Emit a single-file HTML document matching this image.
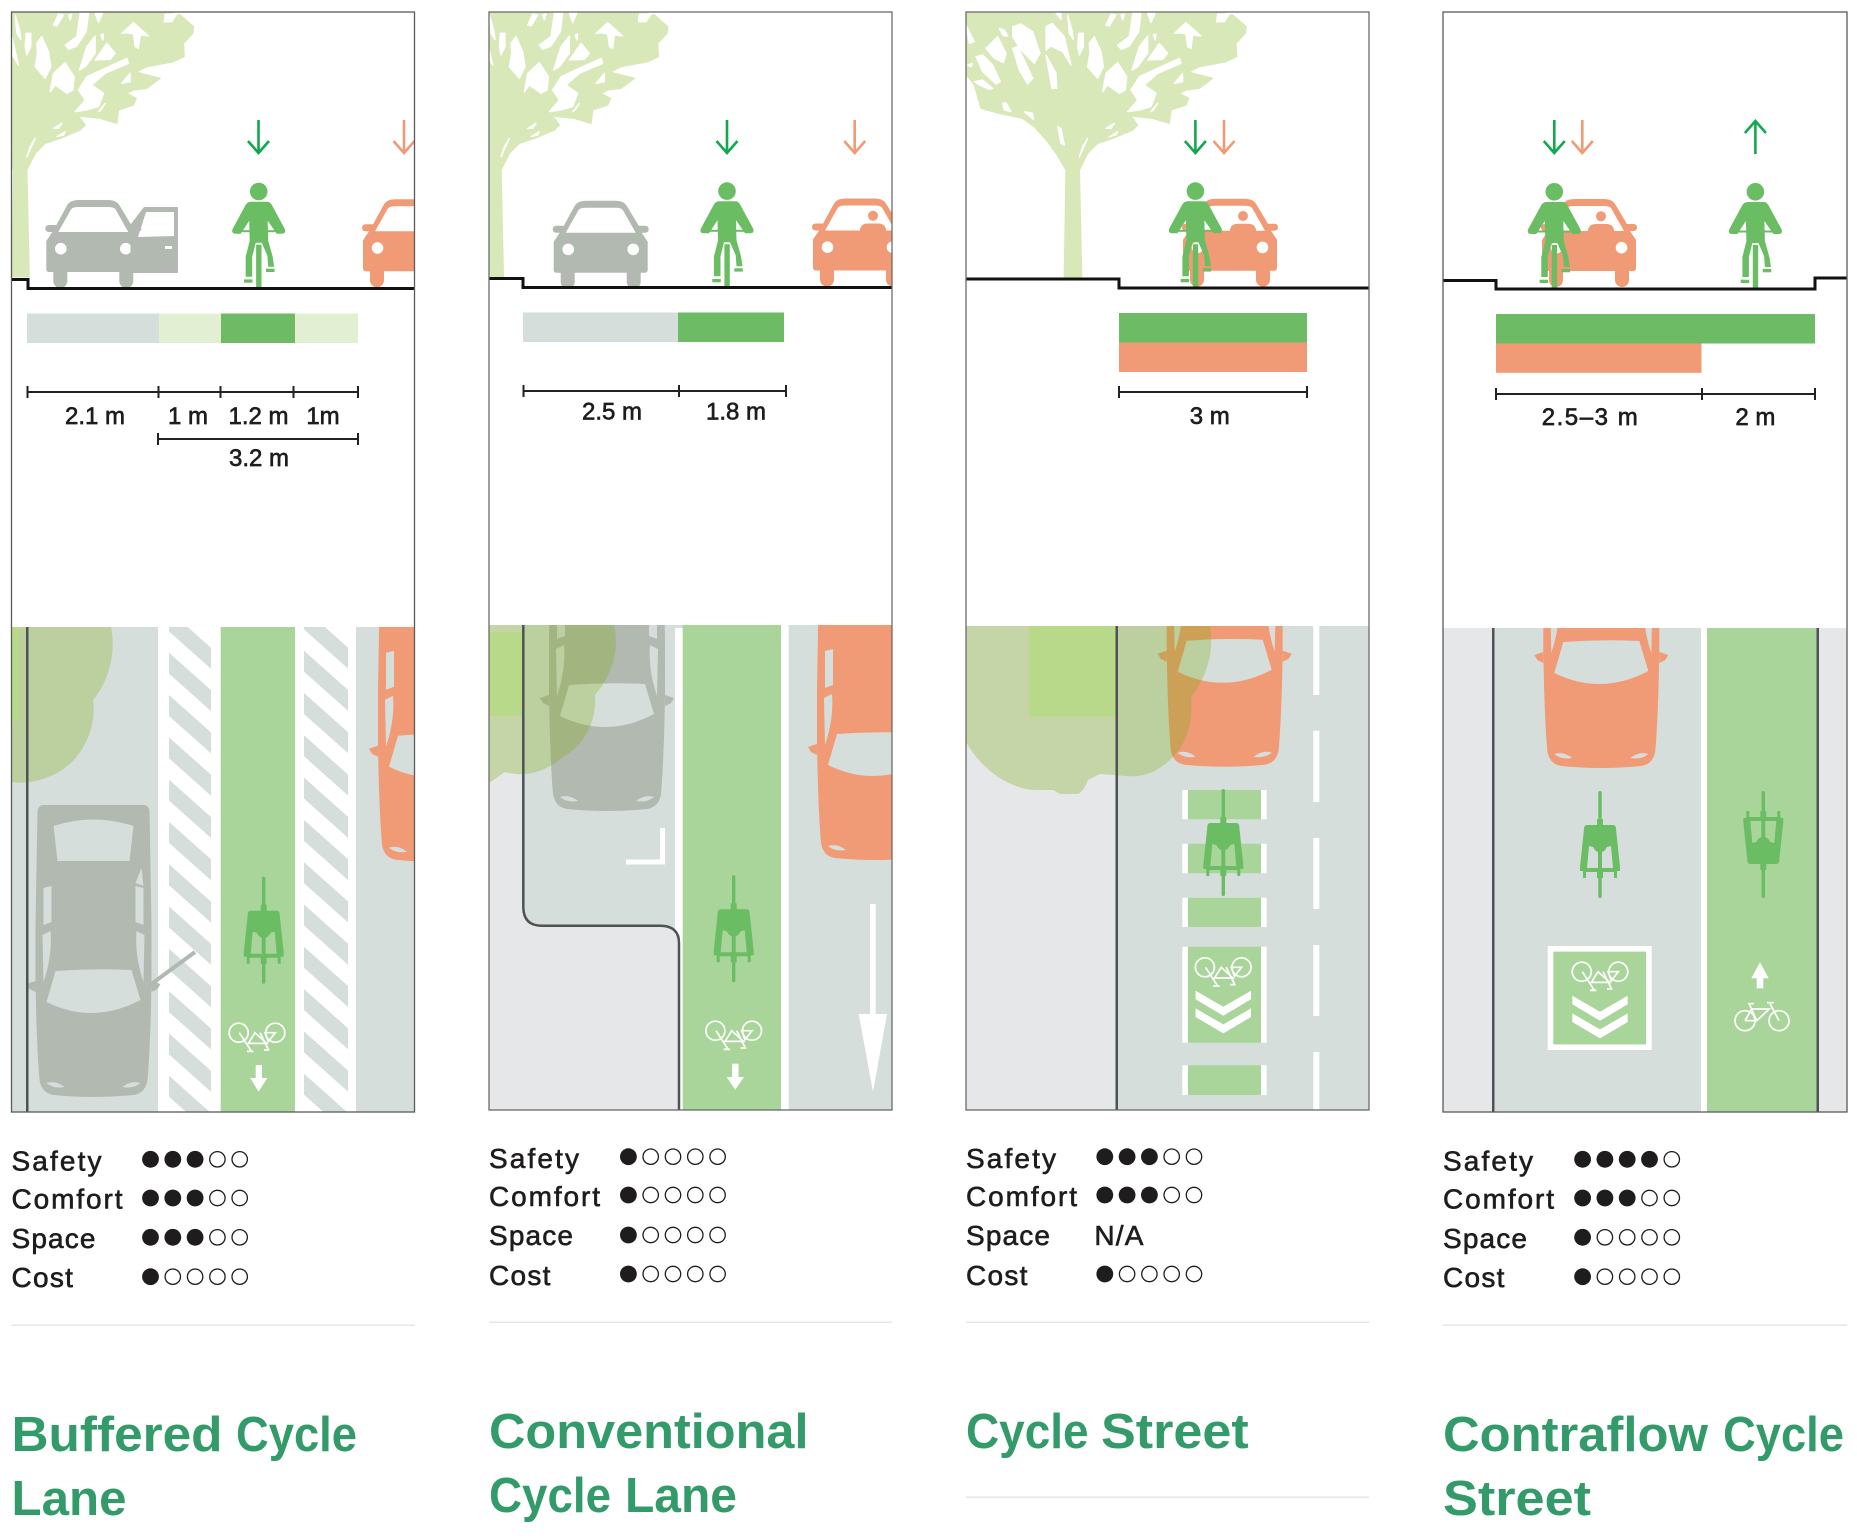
<!DOCTYPE html>
<html><head><meta charset="utf-8"><style>
html,body{margin:0;padding:0;background:#fff}
svg{display:block}
.d{font:24px "Liberation Sans",sans-serif;fill:#1f1c1d;stroke:#1f1c1d;stroke-width:.65;text-anchor:middle}
.s{font:28px "Liberation Sans",sans-serif;fill:#1f1c1d;stroke:#1f1c1d;stroke-width:.6}
.t{font:bold 49px "Liberation Sans",sans-serif;fill:#339b69}
</style></head><body>
<svg xmlns="http://www.w3.org/2000/svg" width="1857" height="1539" viewBox="0 0 1857 1539">
<defs>
<clipPath id="c1"><rect x="11.5" y="12" width="403" height="1100"/></clipPath>
<clipPath id="c2"><rect x="489" y="12" width="403" height="1098"/></clipPath>
<clipPath id="c3"><rect x="966" y="12" width="403" height="1098"/></clipPath>
<clipPath id="p1"><rect x="11.5" y="627" width="403" height="485"/></clipPath>
<clipPath id="p2"><rect x="489" y="625" width="403" height="485"/></clipPath>
<clipPath id="p3"><rect x="966" y="626" width="403" height="484"/></clipPath>
<clipPath id="p4"><rect x="1443" y="628" width="404" height="484"/></clipPath>
<pattern id="h1" patternUnits="userSpaceOnUse" x="169" y="652.7" width="47.5" height="42.3"><path fill="#d6dedb" d="M0,0L47.5,42.3V63.3L0,21ZM0,-42.3L47.5,0V21L0,-21.3Z"/></pattern>
<pattern id="h2" patternUnits="userSpaceOnUse" x="304" y="650.7" width="47.5" height="42.3"><path fill="#d6dedb" d="M0,0L47.5,42.3V63.3L0,21ZM0,-42.3L47.5,0V21L0,-21.3Z"/></pattern>
<g id="tree" transform="translate(-86.5,10) scale(.33333)">
<path fill="#d9e8b8" stroke="#d9e8b8" stroke-width="4" stroke-linejoin="round" d="M-10,6H780L770,15L800,15L840,50L838,70L810,100L812,140L780,155L700,170L670,185L680,190L740,205L700,235L660,240L640,250L668,265L660,285L615,300L610,340L560,325L495,318L515,345L500,360L440,385L395,400L365,430L340,480L347,800H295L300,480L270,430L245,395L205,350L170,325L100,310L45,295L25,225L-10,180Z"/>
<path fill="#fff" stroke="#fff" stroke-width="4" stroke-linejoin="round" d="M140,50L165,42L200,65L222,130L205,160L165,120L140,80ZM140,115L155,110L175,150L200,205L185,222L160,180ZM30,140L50,135L80,165L103,215L90,222L50,185ZM60,115L95,80L120,130L112,158L85,145ZM100,55L115,60L125,78L112,78ZM240,50L258,40L295,80L315,165L290,125L255,108L240,120L240,90ZM240,135L270,190L272,235L258,235L250,190ZM305,15L318,60L322,88L310,70ZM338,70L352,70L352,110L340,135L335,110ZM370,100L385,80L405,125L412,170L395,205L365,170L372,130ZM410,245L420,190L455,158L482,200L478,240L460,250L425,225ZM625,70L660,38L705,78L680,75L675,115L665,110L660,72L640,68ZM455,105L490,80L500,10L525,10L518,65L490,108L465,118ZM498,180L520,110L545,78L545,130L515,170ZM545,150L580,100L605,130L590,148ZM420,45L435,12L450,15L430,48ZM545,10L568,8L555,38ZM465,15L475,12L470,30ZM270,10L285,8L285,28ZM562,75L570,72L568,90ZM495,240L520,200L640,145L645,160L575,190L535,225L570,250L555,290L520,300L485,305L515,270ZM625,220L650,190L650,215ZM555,305L575,280L562,300ZM110,280L120,278L135,305L115,300ZM175,305L200,310L202,328ZM0,45L25,95L10,100ZM5,165L20,160L15,170ZM25,215L50,210L80,235L70,238L40,225ZM275,350L285,355L295,405L285,400ZM365,385L340,440L350,410ZM420,355L445,340L435,355ZM430,380L455,365L450,375ZM755,12L790,12L775,35L752,35Z"/>
</g>
<g id="cyc">
<circle cx="0" cy="8.8" r="8.8"/>
<path d="M-8,19H9Q11,19 13,22L26,46Q28,51 23,51H18L9,38L9.5,58L14,74L15.5,84H9.5L8.7,73L3,60H-3L-6.5,74V94H-13V74L-9,58L-9.5,38L-18,51H-23Q-28,51 -26,46L-13,22Q-11,19 -8,19Z"/>
<rect x="-21" y="47.5" width="42" height="2"/><rect x="-2.6" y="62" width="5.4" height="44"/>
<rect x="-14.7" y="96.7" width="8.5" height="3.3"/><rect x="7.3" y="86" width="8.5" height="3.3"/>
</g>
<g id="carf">
<path fill-rule="evenodd" d="M-38,27L-26,5Q-23,0 -15,0H15Q23,0 26,5L38,25H44Q48,25 48,28.5Q48,32 44,32H41L47,41V69Q47,72 44,72H40V81A7,7 0 0 1 26,81V72H-26V81A7,7 0 0 1 -40,81V72H-44Q-47,72 -47,69V41L-41,32H-44Q-48,32 -48,28.5Q-48,25 -44,25H-37ZM-35,32H35L22,9Q20,7 15,7H-15Q-20,7 -22,9Z"/>
<circle cx="-32.5" cy="48.7" r="5.8" fill="#fff"/><circle cx="32.5" cy="48.7" r="5.8" fill="#fff"/>
</g>
<g id="dr"><circle cx="13" cy="17.3" r="5"/><path d="M0,33V31Q1,25 8,25H18Q25,25 26,31V33Z"/></g>
<g id="cart">
<path d="M-50,0H50Q55,0 56,6L58,120V175Q57,240 54,275Q52,288 40,290Q0,294 -40,290Q-52,288 -54,275Q-57,240 -58,175V120L-56,6Q-55,0 -50,0Z"/>
<path d="M-58,176L-67,179L-64,184L-58,187ZM58,176L67,179L64,184L58,187Z"/>
<path fill="#d6dedb" d="M-40,21Q0,8 40,21L36,56H-36ZM-38,166Q0,163 38,165L47,195Q0,220 -47,197ZM-50,83L-42,81V117L-50,120ZM-51,130L-43,126Q-41,150 -50,177ZM50,83L42,81V117L50,120ZM51,130L43,126Q41,150 50,177ZM42,78L48,63L50,81ZM-47,278Q-38,275 -29,282Q-40,284 -47,278ZM47,278Q38,275 29,282Q40,284 47,278Z"/>
</g>
<g id="bike">
<path fill-rule="evenodd" d="M-13,34H13Q16,34 16,38L20,76V80H17V87H14V81H-14V87H-17V80H-20V76L-16,38Q-16,34 -13,34ZM-11,55L-7,56Q-5,60 -2,61V77H-13ZM11,55L7,56Q5,60 2,61V77H13Z"/>
<rect x="-1.7" y="0" width="3.4" height="107" rx="1.5"/><rect x="-3" y="28" width="6" height="8"/><rect x="-3" y="78" width="6" height="9"/>
</g>
<g id="tan" fill="none" stroke="#fff" stroke-width="1.7">
<circle cx="-18.3" cy="0" r="9.5"/><circle cx="18.3" cy="0" r="9.5"/>
<path d="M-17.7,0L-6,18M-10,18.7H-3.6M-8.7,10.7L-2,0L9.7,10.7ZM8,0H18.3L11.3,9ZM3,0L11.3,16.7M7,17.3H12.5"/>
</g>
<g id="chev" fill="#fff"><path d="M-27.7,0L0,16L27.7,0V8.6L0,25L-27.7,8.6Z"/><path d="M-27.7,17.7L0,33.7L27.7,17.7V26.3L0,42.7L-27.7,26.3Z"/></g>
<g id="ad"><path d="M0,0V33M-10.5,21L0,33L10.5,21" fill="none" stroke-width="2.6"/></g>
<g id="r1"><circle cx="0" cy="0" r="8.4" fill="#1f1c1d"/><g fill="none" stroke="#1f1c1d" stroke-width="1.3"><circle cx="22.3" cy="0" r="7.7"/><circle cx="44.6" cy="0" r="7.7"/><circle cx="66.9" cy="0" r="7.7"/><circle cx="89.2" cy="0" r="7.7"/></g></g>
<g id="r3"><g fill="#1f1c1d"><circle cx="0" cy="0" r="8.4"/><circle cx="22.3" cy="0" r="8.4"/><circle cx="44.6" cy="0" r="8.4"/></g><g fill="none" stroke="#1f1c1d" stroke-width="1.3"><circle cx="66.9" cy="0" r="7.7"/><circle cx="89.2" cy="0" r="7.7"/></g></g>
<g id="r4"><g fill="#1f1c1d"><circle cx="0" cy="0" r="8.4"/><circle cx="22.3" cy="0" r="8.4"/><circle cx="44.6" cy="0" r="8.4"/><circle cx="66.9" cy="0" r="8.4"/></g><circle cx="89.2" cy="0" r="7.7" fill="none" stroke="#1f1c1d" stroke-width="1.3"/></g>
</defs>

<rect width="1857" height="1539" fill="#fff"/>

<!-- PANEL 1 -->
<g clip-path="url(#c1)">
<use href="#tree"/>
<use href="#carf" x="93.3" y="200" fill="#b2b9b1"/>
<path fill="#b2b9b1" fill-rule="evenodd" d="M131,224L144,207H178V273H130ZM138,237L146,212H174V236Z"/>
<rect x="165" y="246" width="7" height="3" fill="#fff"/>
<use href="#carf" x="410" y="199.3" fill="#f09b75"/>
<use href="#cyc" x="258.7" y="182.7" fill="#6bbd63"/>
<use href="#ad" x="258.5" y="120" stroke="#12a84e"/>
<use href="#ad" x="404" y="120" stroke="#f09b75"/>
<path d="M11,279.5H28V288.5H415" fill="none" stroke="#111" stroke-width="3"/>
</g>
<rect x="27" y="313.5" width="132" height="29.5" fill="#d6dedb"/><rect x="159" y="313.5" width="62" height="29.5" fill="#e3efd3"/><rect x="221" y="313.5" width="74" height="29.5" fill="#6dbb64"/><rect x="295" y="313.5" width="63" height="29.5" fill="#e3efd3"/>
<path d="M27.5,392H358M27.5,386V398M158.5,386V398M220.5,386V398M293.5,386V398M358,386V398M158,439H358M158,433V445M358,433V445" fill="none" stroke="#222" stroke-width="2"/>
<text class="d" x="95" y="424">2.1 m</text><text class="d" x="188" y="424">1 m</text><text class="d" x="258.5" y="424">1.2 m</text><text class="d" x="323" y="424">1m</text><text class="d" x="259" y="466">3.2 m</text>
<g clip-path="url(#p1)">
<rect x="11.5" y="627" width="403" height="485" fill="#d6dedb"/>
<rect x="158" y="627" width="198" height="485" fill="#fff"/>
<rect x="169" y="627" width="42" height="485" fill="url(#h1)"/>
<rect x="304" y="627" width="44" height="485" fill="url(#h2)"/>
<rect x="220.7" y="627" width="74.3" height="485" fill="#a9d59b"/>
<use href="#cart" x="93.5" y="805" fill="#b2b9b1"/>
<path d="M150,985L195,952" stroke="#b2b9b1" stroke-width="4"/>
<use href="#cart" x="436" y="569.7" fill="#f09b75"/>
<path fill="#7fac14" fill-opacity=".3" d="M12,627H111C116,650 110,680 93,700C95,715 93,740 72,762C55,778 30,785 12,782Z"/>
<rect x="12" y="627" width="7" height="95" fill="#b8d98a"/>
<rect x="26" y="627" width="2.5" height="485" fill="#4f5254"/>
<use href="#bike" x="263.7" y="876.7" fill="#6bbd63"/>
<use href="#tan" x="257" y="1032.7"/>
<path fill="#fff" d="M255.7,1065H262V1078H267.3L258.5,1091.7L250.3,1078H255.7Z"/>
</g>
<rect x="11.5" y="12" width="403" height="1100" fill="none" stroke="#5b5b5b" stroke-width="1.3"/>
<g>
<text class="s" x="11.5" y="1170.7" textLength="90">Safety</text><text class="s" x="11.5" y="1208.7" textLength="111">Comfort</text><text class="s" x="11.5" y="1248" textLength="84">Space</text><text class="s" x="11.5" y="1287" textLength="61.4">Cost</text>
<use href="#r3" x="150.5" y="1159.3"/><use href="#r3" x="150.5" y="1198"/><use href="#r3" x="150.5" y="1237.3"/><use href="#r1" x="150.5" y="1276.7"/>
</g>
<rect x="11.5" y="1324.5" width="403" height="1.5" fill="#e6e6e6"/>
<text class="t" x="11.5" y="1451" textLength="211" lengthAdjust="spacingAndGlyphs">Buffered</text>
<text class="t" x="236" y="1451" textLength="121" lengthAdjust="spacingAndGlyphs">Cycle</text>
<text class="t" x="11.5" y="1515" textLength="115" lengthAdjust="spacingAndGlyphs">Lane</text>

<!-- PANEL 2 -->
<g clip-path="url(#c2)">
<use href="#tree" x="474.2"/>
<use href="#carf" x="600.7" y="200.7" fill="#b2b9b1"/>
<use href="#carf" x="860" y="198.5" fill="#f09b75"/>
<use href="#dr" x="860" y="198.5" fill="#f09b75"/>
<use href="#cyc" x="727" y="182.3" fill="#6bbd63"/>
<use href="#ad" x="727" y="120" stroke="#12a84e"/>
<use href="#ad" x="854.7" y="120" stroke="#f09b75"/>
<path d="M488,278.5H523V287.5H893" fill="none" stroke="#111" stroke-width="3"/>
</g>
<rect x="523" y="312.5" width="155" height="29.5" fill="#d6dedb"/><rect x="678" y="312.5" width="106" height="29.5" fill="#6dbb64"/>
<path d="M523.5,391H786M523.5,385V397M679,385V397M786,385V397" fill="none" stroke="#222" stroke-width="2"/>
<text class="d" x="612" y="419.5">2.5 m</text><text class="d" x="736" y="419.5">1.8 m</text>
<g clip-path="url(#p2)">
<rect x="489" y="625" width="403" height="485" fill="#e6e7e8"/>
<path fill="#d6dedb" d="M523.3,625V906.7Q523.3,925.7 541.7,925.7H660Q679,925.7 679,943V1110H892V625Z"/>
<rect x="675" y="628" width="8" height="482" fill="#fff"/>
<rect x="672" y="935" width="8" height="175" fill="#e6e7e8"/>
<rect x="682.7" y="625" width="98.3" height="485" fill="#a9d59b"/>
<rect x="781" y="625" width="7.7" height="485" fill="#fff"/>
<use href="#cart" x="607" y="519" fill="#b2b9b1"/>
<use href="#cart" x="875" y="568" fill="#f09b75"/>
<path fill="#7fac14" fill-opacity=".3" d="M489,625H614C620,650 612,675 595,695C597,720 585,745 563,757C545,772 525,778 505,772L489,783Z"/>
<rect x="489" y="631.7" width="33.5" height="84.3" fill="#b8d98a"/>
<path d="M523.3,625V906.7Q523.3,925.7 541.7,925.7H660Q679,925.7 679,943V1110" fill="none" stroke="#4f5254" stroke-width="2.5"/>
<path fill="#fff" d="M660,828H665V864.5H626V859.5H660Z"/>
<use href="#bike" x="733.7" y="875.3" fill="#6bbd63"/>
<use href="#tan" x="733.7" y="1030.7"/>
<path fill="#fff" d="M732,1063.7H738.6V1077H744L735.3,1089.7L726.6,1077H732Z"/>
<path fill="#fff" d="M870,904H875.7V1014H887L873,1091.7L858.7,1014H870Z"/>
</g>
<rect x="489" y="12" width="403" height="1098" fill="none" stroke="#6b6b6b" stroke-width="1.3"/>
<text class="s" x="489" y="1168" textLength="90">Safety</text><text class="s" x="489" y="1206" textLength="111">Comfort</text><text class="s" x="489" y="1245" textLength="84">Space</text><text class="s" x="489" y="1285" textLength="61.4">Cost</text>
<use href="#r1" x="628.4" y="1156.7"/><use href="#r1" x="628.4" y="1195"/><use href="#r1" x="628.4" y="1235"/><use href="#r1" x="628.4" y="1274"/>
<rect x="489" y="1321.5" width="403" height="1.5" fill="#e6e6e6"/>
<text class="t" x="489" y="1448" textLength="319.5" lengthAdjust="spacingAndGlyphs">Conventional</text>
<text class="t" x="489" y="1512" textLength="122" lengthAdjust="spacingAndGlyphs">Cycle</text>
<text class="t" x="625" y="1512" textLength="112" lengthAdjust="spacingAndGlyphs">Lane</text>

<!-- PANEL 3 -->
<g clip-path="url(#c3)">
<use href="#tree" x="1052.5"/>
<use href="#carf" x="1230" y="198.7" fill="#f09b75"/>
<use href="#dr" x="1230" y="198.7" fill="#f09b75"/>
<use href="#cyc" x="1195.4" y="182.3" fill="#6bbd63"/>
<use href="#ad" x="1195.4" y="120" stroke="#12a84e"/>
<use href="#ad" x="1224" y="120" stroke="#f09b75"/>
<path d="M965,279H1119V288H1370" fill="none" stroke="#111" stroke-width="3"/>
</g>
<rect x="1119" y="313" width="188" height="29.5" fill="#6dbb64"/><rect x="1119" y="342.5" width="188" height="29.5" fill="#f09b75"/>
<path d="M1119,392H1307M1119,386V398M1307,386V398" fill="none" stroke="#222" stroke-width="2"/>
<text class="d" x="1209.7" y="424">3 m</text>
<g clip-path="url(#p3)">
<rect x="966" y="626" width="151" height="484" fill="#e6e7e8"/>
<rect x="1117" y="626" width="252" height="484" fill="#d6dedb"/>
<path fill="#fff" d="M1313.3,626h6v69h-6ZM1313.3,730.7h6v71.3h-6ZM1313.3,838h6v71h-6ZM1313.3,945h6v71h-6ZM1313.3,1052h6v58h-6Z"/>
<path fill="#a9d59b" d="M1188,790H1261V819.3H1188ZM1188,843.7H1261V873.3H1188ZM1188,897.7H1261V927H1188ZM1188,946.7H1261V1042.7H1188ZM1188,1065.3H1261V1095H1188Z"/>
<path fill="#fff" d="M1182.3,790h5.7v29.3h-5.7ZM1261,790h5.7v29.3h-5.7ZM1182.3,843.7h5.7v29.6h-5.7ZM1261,843.7h5.7v29.6h-5.7ZM1182.3,897.7h5.7v29.3h-5.7ZM1261,897.7h5.7v29.3h-5.7ZM1182.3,946.7h5.7v96h-5.7ZM1261,946.7h5.7v96h-5.7ZM1182.3,1065.3h5.7v29.7h-5.7ZM1261,1065.3h5.7v29.7h-5.7Z"/>
<use href="#cart" x="1224.7" y="474.7" fill="#f09b75"/>
<path fill="#7fac14" fill-opacity=".3" d="M966,626H1210C1214,650 1208,675 1191,697C1193,720 1188,742 1173,757C1160,770 1145,778 1126.7,776L1100,774L1088,780C1084,790 1080,794 1076.7,794H1060L1053,790H1036.7C1015,790 985,775 966,742Z"/>
<rect x="1029" y="626" width="87" height="90.7" fill="#b8d98a"/>
<rect x="1115.5" y="626" width="2.5" height="484" fill="#4f5254"/>
<use href="#bike" x="1223.3" y="789" fill="#6bbd63"/>
<use href="#tan" x="1223.2" y="967.3"/>
<use href="#chev" x="1223.3" y="990.7"/>
</g>
<rect x="966" y="12" width="403" height="1098" fill="none" stroke="#6b6b6b" stroke-width="1.3"/>
<text class="s" x="966" y="1168" textLength="90">Safety</text><text class="s" x="966" y="1206" textLength="111">Comfort</text><text class="s" x="966" y="1245" textLength="84">Space</text><text class="s" x="966" y="1285" textLength="61.4">Cost</text>
<use href="#r3" x="1104.8" y="1156.7"/><use href="#r3" x="1104.8" y="1195"/><use href="#r1" x="1104.8" y="1274"/>
<text class="s" x="1094.4" y="1245" textLength="49">N/A</text>
<rect x="966" y="1321.5" width="403" height="1.5" fill="#e6e6e6"/>
<text class="t" x="966" y="1448" textLength="122.6" lengthAdjust="spacingAndGlyphs">Cycle</text>
<text class="t" x="1101" y="1448" textLength="147.7" lengthAdjust="spacingAndGlyphs">Street</text>
<rect x="966" y="1496.5" width="403" height="1.5" fill="#e6e6e6"/>

<!-- PANEL 4 -->
<use href="#carf" x="1589" y="199" fill="#f09b75"/>
<use href="#dr" x="1588" y="199" fill="#f09b75"/>
<use href="#cyc" x="1554.3" y="183" fill="#6bbd63"/>
<use href="#cyc" x="1755.4" y="183" fill="#6bbd63"/>
<use href="#ad" x="1554.3" y="120" stroke="#12a84e"/>
<use href="#ad" x="1582.3" y="120" stroke="#f09b75"/>
<use href="#ad" transform="translate(1755.4,154) scale(1,-1)" stroke="#12a84e"/>
<path d="M1443,280.5H1496V289H1815V278H1847" fill="none" stroke="#111" stroke-width="3"/>
<rect x="1496" y="314" width="319" height="29.5" fill="#6dbb64"/><rect x="1496" y="343.5" width="205.5" height="29.3" fill="#f09b75"/>
<path d="M1496,394H1815M1496,388V400M1702,388V400M1815,388V400" fill="none" stroke="#222" stroke-width="2"/>
<text class="d" x="1589.7" y="425" text-anchor="middle" textLength="96">2.5–3 m</text><text class="d" x="1755.4" y="425">2 m</text>
<g clip-path="url(#p4)">
<rect x="1443" y="628" width="404" height="484" fill="#e6e7e8"/>
<rect x="1494" y="628" width="207" height="484" fill="#d6dedb"/>
<rect x="1701" y="628" width="6" height="484" fill="#fff"/>
<rect x="1707" y="628" width="110" height="484" fill="#a9d59b"/>
<rect x="1492" y="628" width="2.5" height="484" fill="#4f5254"/>
<rect x="1816.5" y="628" width="2.5" height="484" fill="#4f5254"/>
<use href="#cart" x="1601.3" y="476" fill="#f09b75"/>
<use href="#bike" x="1600" y="791" fill="#6bbd63"/>
<use href="#bike" transform="translate(1763.3,898) scale(1,-1)" fill="#6bbd63"/>
<rect x="1550.5" y="948.8" width="98.4" height="98.4" fill="#a9d59b" stroke="#fff" stroke-width="5.6"/>
<use href="#tan" x="1600" y="971.7"/>
<use href="#chev" x="1600" y="995.7"/>
<path fill="#fff" d="M1760,962.3L1768.7,978.3H1763.3V988.3H1756.7V978.3H1751.3Z"/>
<g transform="translate(1762,1020.7)" fill="none" stroke="#fff" stroke-width="1.7"><circle cx="-17" cy="0" r="10"/><circle cx="17" cy="0" r="10"/><path d="M-17,0H-5.3L7.3,-11.7H-10.3L-17,0M-12.7,-16.7L-5.3,0M8,-17L17,0M-14,-17H-8M5,-18H12"/></g>
</g>
<rect x="1443" y="12" width="404" height="1100" fill="none" stroke="#5b5b5b" stroke-width="1.3"/>
<text class="s" x="1443" y="1170.7" textLength="90">Safety</text><text class="s" x="1443" y="1208.7" textLength="111">Comfort</text><text class="s" x="1443" y="1248" textLength="84">Space</text><text class="s" x="1443" y="1287" textLength="61.4">Cost</text>
<use href="#r4" x="1582.6" y="1159.3"/><use href="#r3" x="1582.6" y="1198"/><use href="#r1" x="1582.6" y="1237.3"/><use href="#r1" x="1582.6" y="1276.7"/>
<rect x="1443" y="1324.5" width="404" height="1.5" fill="#e6e6e6"/>
<text class="t" x="1443" y="1451" textLength="265" lengthAdjust="spacingAndGlyphs">Contraflow</text>
<text class="t" x="1723" y="1451" textLength="121" lengthAdjust="spacingAndGlyphs">Cycle</text>
<text class="t" x="1443" y="1515" textLength="148" lengthAdjust="spacingAndGlyphs">Street</text>
</svg>
</body></html>
